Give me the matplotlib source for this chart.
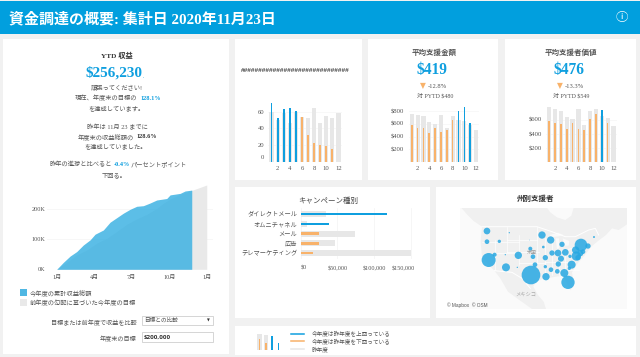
import matplotlib
matplotlib.use("Agg")
import matplotlib.pyplot as plt
from matplotlib.patches import Rectangle, Polygon
from matplotlib.transforms import ScaledTranslation

FUENTE = ['Liberation Serif', 'Noto Sans CJK JP', 'DejaVu Sans']
AZUL = '#0F9FDF'
NARANJA = '#F8B26A'
GRIS = '#E7E7E7'
TEXTO = '#555555'

# YTD chart (months since Jan 1, thousands of dollars)
mes_actual = [0, 0.53, 1.07, 1.6, 2.13, 2.67, 3.07, 3.73, 4.27, 4.8, 5.33, 5.87, 6.4, 6.93, 7.47, 8.0, 8.8, 9.07, 9.87, 10.27, 10.8]
ingreso_actual = [0, 23, 44, 59, 81, 98, 117, 131, 157, 172, 187, 200, 210, 212, 221, 231, 236, 248, 253, 261, 264]
mes_meta = [0, 0.8, 1.6, 2.4, 3.2, 4.0, 4.8, 5.6, 6.4, 7.2, 8.0, 8.53, 9.07, 9.87, 10.8, 12]
ingreso_meta = [0, 23, 48, 64, 87, 103, 126, 150, 168, 183, 203, 220, 234, 250, 263, 281]
meses_ytd = [0, 3, 6, 9, 12]
meses_ytd_txt = ['1月', '4月', '7月', '10月', '1月']

# small multiples
meses = list(range(1, 13))
previo_a = [60, 50, 58, 47, 60, 54, 52, 64, 46, 55, 52, 59]
actual_a = [70, 52, 63, 64, 61, 54, 32, 23, 20, 19, 16, 0]
previo_b = [763, 742, 721, 637, 600, 747, 532, 721, 670, 647, 580, 505]
actual_b = [590, 537, 542, 463, 537, 474, 505, 663, 800, 868, 621, 0]
previo_c = [781, 753, 720, 635, 612, 753, 532, 720, 753, 650, 626, 513]
actual_c = [588, 555, 541, 475, 555, 475, 456, 612, 682, 734, 551, 0]

# campaigns
campanas = ['ダイレクトメール', 'オムニチャネル', 'メール', '広告', 'テレマーケティング']
campana_previo = [35000, 9000, 74000, 47000, 150000]
campana_actual = [117000, 38000, 25000, 25000, 17000]

# state bubbles, in map units
estado_x = [165, 165, 202, 232, 170, 188, 220, 222, 259, 256, 292, 295, 303, 297, 309, 330, 356, 334, 340, 340, 342, 357, 376, 379, 387, 360, 378, 400, 390, 397, 408, 412, 419, 433, 414, 431, 447, 468, 486, 445, 438, 453]
estado_y = [138, 170, 169, 143, 225, 209, 209, 247, 211, 247, 165, 191, 215, 270, 239, 150, 165, 186, 218, 245, 275, 254, 259, 237, 221, 204, 204, 202, 178, 264, 292, 250, 239, 213, 214, 195, 180, 183, 156, 205, 218, 200]
estado_r = [10, 7, 5, 2, 21, 6, 2, 12, 11, 2, 1, 6, 7, 28, 7, 11, 11, 4, 8, 5, 11, 7, 7, 8, 9, 8, 10, 10, 8, 12, 20, 5, 12, 14, 5, 11, 19, 8, 3, 9, 8, 7]

# map outlines, in map units
tierra_x = [88, 105, 125, 150, 146, 150, 170, 187, 205, 228, 262, 300, 342, 335, 318, 304, 312, 332, 360, 392, 402, 416, 426, 420, 436, 455, 478, 498, 522, 540, 560, 585, 585, 88]
tierra_y = [68, 88, 108, 125, 170, 215, 240, 257, 280, 320, 345, 372, 372, 350, 330, 305, 290, 282, 277, 272, 290, 316, 296, 262, 236, 215, 185, 168, 150, 130, 135, 118, 68, 68]
bahia_x = [345, 425, 418, 400, 375, 355]
bahia_y = [68, 68, 92, 105, 97, 82]
lago_s_x = [352, 378, 395, 380, 360]
lago_s_y = [150, 143, 150, 154, 156]
lago_m_x = [371, 381, 382, 375]
lago_m_y = [160, 160, 190, 192]
lago_h_x = [392, 412, 410, 398]
lago_h_y = [160, 168, 182, 182]
lago_e_x = [408, 432, 430, 406]
lago_e_y = [192, 184, 188, 198]
frontera_n_x = [150, 315, 360, 400, 430, 470, 490, 500]
frontera_n_y = [125, 125, 140, 155, 155, 135, 130, 150]
frontera_s_x = [187, 240, 270, 295]
frontera_s_y = [257, 262, 280, 310]
lineas_x = [[225, 225], [190, 190], [150, 260], [260, 260], [225, 315], [315, 315], [190, 260], [260, 340], [225, 320], [340, 340], [400, 400], [340, 430], [360, 360], [380, 380], [355, 440]]
lineas_y = [[125, 200], [165, 255], [170, 170], [150, 240], [165, 165], [125, 235], [205, 205], [235, 235], [200, 200], [160, 270], [195, 260], [230, 230], [170, 270], [205, 270], [255, 255]]


def caja_eje(izq, arr, der, aba):
    ax = fig.add_axes([izq / 640, 1 - aba / 357, (der - izq) / 640, (aba - arr) / 357])
    ax.patch.set_alpha(0)
    for lado in ax.spines.values():
        lado.set_visible(False)
    return ax


def texto(x, y, s, size=4.5, color=TEXTO, ha='center', weight='normal', family=FUENTE):
    fondo.text(x, y, s, fontsize=size, color=color, ha=ha, va='center', fontweight=weight, family=family)


def panel(izq, arr, der, aba):
    fondo.add_patch(Rectangle((izq, arr), der - izq, aba - arr, facecolor='white', edgecolor='none'))


def mover(etiqueta, dx, dy):
    etiqueta.set_transform(etiqueta.get_transform() + ScaledTranslation(dx / 100, dy / 100, fig.dpi_scale_trans))


def barras(ax, previo, actual):
    ax.bar(meses, previo, width=0.72, color=GRIS)
    colores = [AZUL if a > p else NARANJA for a, p in zip(actual, previo)]
    ax.bar(meses, actual, width=0.28, color=colores)
    ax.set_xlim(0.45, 12.6)
    ax.set_xticks(meses[1::2])
    ax.tick_params(length=0, labelsize=4.8, labelcolor=TEXTO, pad=3)
    for t in ax.get_xticklabels() + ax.get_yticklabels():
        t.set_family(FUENTE)
    ax.grid(axis='y', color='#F5F5F5', lw=0.5)
    ax.set_axisbelow(True)


fig = plt.figure(figsize=(6.4, 3.57), dpi=100, facecolor='#F1F1F1')
fondo = fig.add_axes([0, 0, 1, 1])
fondo.set_xlim(0, 640)
fondo.set_ylim(357, 0)
fondo.axis('off')

# header and panels
fondo.add_patch(Rectangle((0, 1), 640, 33, facecolor='#019FDE', edgecolor='none'))
panel(3, 39, 229, 354)
panel(235, 39, 362, 180)
panel(368, 39, 498, 180)
panel(505, 39, 636, 180)
panel(235, 187, 430, 318)
panel(436, 187, 636, 318)
panel(235, 326, 636, 355)

texto(9, 19, '資金調達の概要: 集計日 2020年11月23日', size=10.8, color='white', ha='left', weight='bold')
texto(622, 18, 'ⓘ', size=9, color='white', family=['Noto Sans CJK JP', 'DejaVu Sans'])

# left panel text
texto(117, 55, 'YTD 収益', size=5.2, color='#333333', weight='bold')
texto(113.5, 73, '$256,230', size=11, color=AZUL, weight='bold')
texto(143, 77, '.', size=4, color=AZUL)
texto(117, 88, '頑張ってください!')
texto(137, 98, '現在、年度末の目標の', ha='right')
texto(140, 98, '128.1%', color=AZUL, ha='left', weight='bold')
texto(117, 108, 'を達成しています。')
texto(117, 127, '昨年は 11月 23 までに')
texto(134, 137, '年度末の収益総額の', ha='right')
texto(136, 137, '128.6%', color='#333333', ha='left', weight='bold')
texto(116, 146, 'を達成していました。')
texto(112, 164, '昨年の進捗と比べると', ha='right')
texto(114, 164, '-0.4%', color=AZUL, ha='left', weight='bold')
texto(131, 164, 'パーセントポイント', ha='left')
texto(114, 175, '下回る。')

# YTD area
ax = caja_eje(47, 185, 213, 269.3)
ax.fill_between(mes_meta, ingreso_meta, color='#E9E9E9', lw=0)
ax.fill_between(mes_actual, ingreso_actual, color='#38B0E2', alpha=0.82, lw=0)
ax.set_xlim(-0.776, 12.5)
ax.set_ylim(0, 281)
ax.set_yticks([0, 100, 200])
ax.set_yticklabels(['0K', '100K', '200K'])
ax.set_xticks(meses_ytd)
ax.set_xticklabels(meses_ytd_txt)
ax.grid(axis='y', color='#F4F4F4', lw=0.5)
ax.set_axisbelow(True)
ax.tick_params(length=0, labelsize=4.4, labelcolor=TEXTO, pad=3)
ax.tick_params(axis='x', pad=4)
for t in ax.get_xticklabels() + ax.get_yticklabels():
    t.set_family(FUENTE)
ax.yaxis.set_tick_params(pad=1)

# YTD legend and controls
fondo.add_patch(Rectangle((20, 289), 7, 7, facecolor='#4FB7E3', edgecolor='none'))
fondo.add_patch(Rectangle((20, 299), 7, 7, facecolor='#E9E9E9', edgecolor='none'))
texto(30, 292.5, '今年度の累計収益総額', ha='left')
texto(30, 302.5, '前年度の勾配に基づいた今年度の目標', ha='left')
texto(137, 323, '目標または前年度で収益を比較', size=4.4, ha='right')
texto(137, 339, '年度末の目標', size=4.4, ha='right')
fondo.add_patch(Rectangle((141.5, 316), 71, 9, facecolor='white', edgecolor='#CFCFCF', lw=0.6))
fondo.add_patch(Rectangle((141.5, 332), 71, 9.5, facecolor='white', edgecolor='#CFCFCF', lw=0.6))
texto(144, 320.5, '目標との比較', size=4.1, ha='left')
texto(208, 320.5, '▼', size=2.6, color='#333333', family=['DejaVu Sans'])
texto(144, 337, '$200,000', size=4.5, color='#333333', ha='left', weight='bold', family=['Open Sans'])

# panel a
texto(295, 71, '#' * 30, size=5.2, color='#444444', weight='bold')
ax = caja_eje(268.3, 100, 342, 162)
barras(ax, previo_a, actual_a)
ax.set_ylim(0, 74)
ax.set_yticks([0, 20, 40, 60])
mover(ax.get_yticklabels()[0], 0, 4.5)

# panel b
texto(434, 52, '平均支援金額', size=5.4, color='#555555', weight='bold')
texto(432, 70, '$419', size=11.2, color=AZUL, weight='bold')
texto(423, 86, '▼', size=5.5, color=NARANJA, family=['DejaVu Sans'])
texto(428, 86, '-12.8%', size=4.7, ha='left')
texto(435, 96, '対 PYTD $480', size=4.3)
ax = caja_eje(408.6, 105, 479.5, 162)
barras(ax, previo_b, actual_b)
ax.set_ylim(0, 900)
ax.set_yticks([200, 400, 600, 800])
ax.set_yticklabels(['$200', '$400', '$600', '$800'], family=FUENTE)

# panel c
texto(571, 52, '平均支援者価値', size=5.4, color='#555555', weight='bold')
texto(569, 70, '$476', size=11.2, color=AZUL, weight='bold')
texto(560, 86, '▼', size=5.5, color=NARANJA, family=['DejaVu Sans'])
texto(565, 86, '-13.3%', size=4.7, ha='left')
texto(571, 96, '対 PYTD $549', size=4.3)
ax = caja_eje(546, 105, 617, 162.3)
barras(ax, previo_c, actual_c)
ax.set_ylim(0, 810)
ax.set_yticks([200, 400, 600])
ax.set_yticklabels(['$200', '$400', '$600'], family=FUENTE)

# campaigns
texto(328, 200, 'キャンペーン種別', size=5.4, color='#444444')
ax = caja_eje(300.7, 208, 414, 259)
filas = list(range(len(campanas)))
ax.barh(filas, campana_previo, height=0.62, color=GRIS)
colores = [AZUL if a > p else NARANJA for a, p in zip(campana_actual, campana_previo)]
ax.barh(filas, campana_actual, height=0.26, color=colores)
ax.set_ylim(4.6, -0.62)
ax.set_xlim(0, 154500)
ax.set_yticks(filas)
ax.set_yticklabels(campanas)
ax.set_xticks([0, 50000, 100000, 150000])
ax.set_xticklabels(['$0', '$50,000', '$100,000', '$150,000'])
ax.grid(axis='x', color='#F3F3F3', lw=0.5)
ax.set_axisbelow(True)
ax.tick_params(length=0, labelsize=4.4, labelcolor=TEXTO)
ax.tick_params(axis='y', labelsize=4.5, pad=2.5)
ax.tick_params(axis='x', pad=5)
for t in ax.get_xticklabels() + ax.get_yticklabels():
    t.set_family(FUENTE)
mover(ax.get_xticklabels()[0], 3, 0)
mover(ax.get_xticklabels()[3], -7.5, 0)

# map
texto(536, 198, '州別支援者', size=5.4, color='#333333', weight='bold')
ax = caja_eje(460.3, 207.7, 627, 309)
ax.set_facecolor('#FAFAFA')
ax.patch.set_alpha(1)
ax.add_patch(Polygon(list(zip(tierra_x, tierra_y)), facecolor='#F0F0F0', edgecolor='none'))
for lx, ly in [(bahia_x, bahia_y), (lago_s_x, lago_s_y), (lago_m_x, lago_m_y), (lago_h_x, lago_h_y), (lago_e_x, lago_e_y)]:
    ax.add_patch(Polygon(list(zip(lx, ly)), facecolor='#FAFAFA', edgecolor='none'))
ax.plot(frontera_n_x, frontera_n_y, color='white', lw=0.7)
ax.plot(frontera_s_x, frontera_s_y, color='white', lw=0.7)
for lx, ly in zip(lineas_x, lineas_y):
    ax.plot(lx, ly, color='white', lw=0.45)
ax.scatter(estado_x, estado_y, s=[(2 * r * 0.24) ** 2 for r in estado_r], color='#27A8E2', alpha=0.85, linewidths=0, zorder=3)
ax.set_xlim(85, 585)
ax.set_ylim(372, 68)
ax.set_xticks([])
ax.set_yticks([])
ax.text(283, 330, 'メキシコ', fontsize=3.8, color='#AAAAAA', ha='center', va='center', family=FUENTE)
ax.text(300, 203, '米国', fontsize=3.6, color='#999999', ha='center', va='center', family=FUENTE, zorder=4)
ax.text(46, 360, '© Mapbox  © OSM', fontsize=3.4, color='#555555', ha='left', va='center', family=['Liberation Sans'], clip_on=False)

# bottom legend
ax = caja_eje(256, 333, 282, 350)
ax.bar([1, 2, 3, 4], [100, 90, 0, 0], width=0.72, color=GRIS)
ax.bar([1, 2, 3, 4], [70, 42, 88, 42], width=0.25, color=[NARANJA, NARANJA, AZUL, AZUL])
ax.set_xlim(0.4, 4.6)
ax.set_ylim(0, 105)
ax.set_xticks([])
ax.set_yticks([])
for y, color in zip([334, 341, 349], [AZUL, NARANJA, GRIS]):
    fondo.plot([291, 304], [y, y], color=color, lw=1.1)
texto(312, 333, '今年度は昨年度を上回っている', size=4.05, ha='left')
texto(312, 341, '今年度は昨年度を下回っている', size=4.05, ha='left')
texto(312, 349.5, '昨年度', size=4.05, ha='left')

plt.savefig('out.png', dpi=100, facecolor=fig.get_facecolor())
